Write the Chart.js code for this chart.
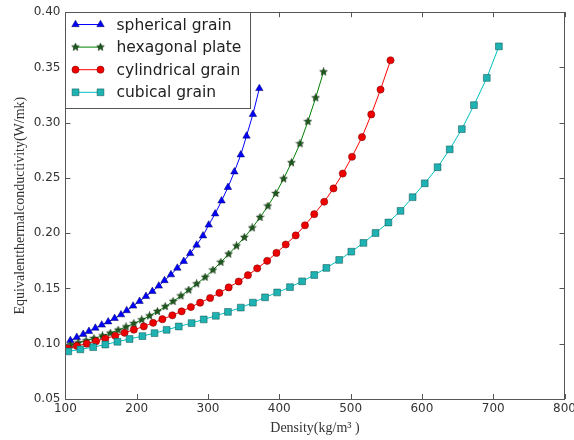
<!DOCTYPE html>
<html>
<head>
<meta charset="utf-8">
<title>Equivalent thermal conductivity vs density</title>
<script src="https://cdn.jsdelivr.net/npm/chart.js@4.4.1/dist/chart.umd.min.js"></script>
<style>
  html, body { margin: 0; padding: 0; background: #fff; }
  #wrap { width: 574px; height: 440px; }
</style>
</head>
<body>
<div id="wrap"><canvas id="kChart" width="574" height="440"></canvas></div>
<script>
// ── Data ──
// density in kg/m3, conductivity in W/mK

const sphericalX = [107, 116, 125, 133, 142, 151, 160, 169, 178, 186, 195, 204, 213, 222, 231, 239,
  248, 257, 266, 275, 284, 293, 301, 310, 319, 328, 337, 346, 354, 363, 372];
const sphericalY = [0.1030, 0.1058, 0.1086, 0.1113, 0.1142, 0.1170, 0.1199, 0.1230, 0.1263, 0.1300,
  0.1342, 0.1384, 0.1429, 0.1474, 0.1523, 0.1572, 0.1625, 0.1685, 0.1746, 0.1817, 0.1893, 0.1977,
  0.2075, 0.2176, 0.2293, 0.2415, 0.2556, 0.2710, 0.2880, 0.3076, 0.3310];

const hexX = [107, 118, 129, 140, 152, 163, 174, 185, 196, 207, 218, 229, 240, 251, 262, 273, 284,
  296, 307, 318, 329, 340, 351, 362, 373, 384, 395, 406, 417, 429, 440, 451, 462];
const hexY = [0.0990, 0.1008, 0.1027, 0.1048, 0.1071, 0.1096, 0.1123, 0.1152, 0.1183, 0.1216, 0.1252,
  0.1292, 0.1336, 0.1383, 0.1433, 0.1486, 0.1542, 0.1602, 0.1667, 0.1737, 0.1812, 0.1885, 0.1962,
  0.2048, 0.2143, 0.2246, 0.2360, 0.2492, 0.2638, 0.2810, 0.3010, 0.3225, 0.3460];

const cylX = [103, 116, 130, 143, 156, 170, 183, 196, 210, 223, 236, 250, 263, 276, 289, 303, 316,
  329, 343, 356, 369, 383, 396, 409, 423, 436, 449, 463, 476, 489, 502, 516, 529, 542, 556];
const cylY = [0.0960, 0.0980, 0.1001, 0.1023, 0.1047, 0.1072, 0.1099, 0.1127, 0.1157, 0.1189, 0.1222,
  0.1257, 0.1293, 0.1332, 0.1372, 0.1414, 0.1460, 0.1510, 0.1563, 0.1620, 0.1682, 0.1750, 0.1822,
  0.1898, 0.1980, 0.2072, 0.2172, 0.2285, 0.2405, 0.2540, 0.2692, 0.2870, 0.3075, 0.3300, 0.3565];

const cubicX = [104, 121, 139, 156, 173, 190, 208, 225, 242, 259, 277, 294, 311, 328, 346, 363, 380,
  397, 415, 432, 449, 466, 484, 501, 518, 535, 553, 570, 587, 604, 622, 639, 656, 673, 691, 708];
const cubicY = [0.0931, 0.0949, 0.0969, 0.0993, 0.1018, 0.1043, 0.1069, 0.1096, 0.1126, 0.1156,
  0.1187, 0.1220, 0.1253, 0.1288, 0.1327, 0.1372, 0.1420, 0.1464, 0.1512, 0.1565, 0.1622, 0.1686,
  0.1758, 0.1833, 0.1912, 0.2002, 0.2097, 0.2202, 0.2326, 0.2452, 0.2597, 0.2759, 0.2942, 0.3159,
  0.3405, 0.3691];

const seriesNames = ['spherical grain', 'hexagonal plate', 'cylindrical grain', 'cubical grain'];
const xTicks = [100, 200, 300, 400, 500, 600, 700, 800];
const yTicks = [0.05, 0.10, 0.15, 0.20, 0.25, 0.30, 0.35, 0.40];

const pairs = (xs, ys) => xs.map((x, i) => ({ x, y: ys[i] }));

// ── Filled five point star, like the matplotlib '*' marker ──
function starMarker(size, fill, edge) {
  const c = document.createElement('canvas');
  c.width = c.height = size;
  const g = c.getContext('2d');
  const cx = size / 2, cy = size / 2;
  const R = size / 2 - 0.5, r = R * 0.45;
  g.beginPath();
  for (let i = 0; i < 10; i++) {
    const a = -Math.PI / 2 + i * Math.PI / 5;
    const rad = i % 2 ? r : R;
    g.lineTo(cx + rad * Math.cos(a), cy + rad * Math.sin(a));
  }
  g.closePath();
  g.fillStyle = fill;
  g.fill();
  g.strokeStyle = edge;
  g.lineWidth = 0.6;
  g.stroke();
  return c;
}

// ── Box frame with inward ticks on all four sides ──
const frameTicks = {
  id: 'frameTicks',
  afterDatasetsDraw(chart) {
    const { ctx, chartArea: a, scales } = chart;
    const len = 5;
    ctx.save();
    ctx.strokeStyle = '#555';
    ctx.lineWidth = 1;
    ctx.beginPath();
    xTicks.forEach(v => {
      const px = Math.round(scales.x.getPixelForValue(v)) + 0.5;
      ctx.moveTo(px, a.bottom); ctx.lineTo(px, a.bottom - len);
      ctx.moveTo(px, a.top);    ctx.lineTo(px, a.top + len);
    });
    yTicks.forEach(v => {
      const py = Math.round(scales.y.getPixelForValue(v)) + 0.5;
      ctx.moveTo(a.left, py);  ctx.lineTo(a.left + len, py);
      ctx.moveTo(a.right, py); ctx.lineTo(a.right - len, py);
    });
    ctx.stroke();
    ctx.strokeRect(Math.round(a.left) + 0.5, Math.round(a.top) + 0.5,
      Math.round(a.right - a.left), Math.round(a.bottom - a.top));
    ctx.restore();
  }
};

// ── Legend box in the upper left corner ──
const boxLegend = {
  id: 'boxLegend',
  afterDraw(chart) {
    const { ctx, chartArea: a } = chart;
    const x0 = Math.round(a.left) + 0.5, y0 = Math.round(a.top) + 0.5;
    const w = 185, h = 96, rowH = 22.6;
    ctx.save();
    ctx.fillStyle = '#fff';
    ctx.fillRect(x0, y0, w, h);
    ctx.strokeStyle = '#555';
    ctx.lineWidth = 1;
    ctx.strokeRect(x0, y0, w, h);
    ctx.font = '15.5px "DejaVu Sans"';
    ctx.textBaseline = 'middle';
    chart.data.datasets.forEach((ds, i) => {
      const y = y0 + 12 + i * rowH;
      const xa = x0 + 10, xb = x0 + 35;
      ctx.strokeStyle = ds.borderColor;
      ctx.lineWidth = ds.borderWidth;
      ctx.beginPath();
      ctx.moveTo(xa, y); ctx.lineTo(xb, y);
      ctx.stroke();
      const pt = {
        pointStyle: ds.pointStyle, radius: ds.pointRadius, rotation: 0,
        borderWidth: ds.pointBorderWidth
      };
      ctx.fillStyle = ds.pointBackgroundColor;
      ctx.strokeStyle = ds.pointBorderColor;
      ctx.lineWidth = ds.pointBorderWidth;
      Chart.helpers.drawPoint(ctx, pt, xa, y);
      Chart.helpers.drawPoint(ctx, pt, xb, y);
      ctx.fillStyle = '#222';
      ctx.fillText(ds.label, x0 + 51, y + 1);
    });
    ctx.restore();
  }
};

document.addEventListener('DOMContentLoaded', () => {
  const canvas = document.getElementById('kChart');

  new Chart(canvas, {
    type: 'line',
    data: {
      datasets: [
        {
          label: seriesNames[0],
          data: pairs(sphericalX, sphericalY),
          borderColor: '#0000ff',
          borderWidth: 1,
          pointStyle: 'triangle',
          pointRadius: 4.3,
          pointBackgroundColor: '#0000ff',
          pointBorderColor: '#00005a',
          pointBorderWidth: 0.5,
          order: 3,
        },
        {
          label: seriesNames[1],
          data: pairs(hexX, hexY),
          borderColor: '#008000',
          borderWidth: 1,
          pointStyle: starMarker(9, '#1d5a1d', '#0b2a0b'),
          pointRadius: 4,
          pointBackgroundColor: '#1d5a1d',
          pointBorderColor: '#0b2a0b',
          pointBorderWidth: 0.5,
          order: 2,
        },
        {
          label: seriesNames[2],
          data: pairs(cylX, cylY),
          borderColor: '#ff0000',
          borderWidth: 1,
          pointStyle: 'circle',
          pointRadius: 3.6,
          pointBackgroundColor: '#ee0000',
          pointBorderColor: '#700000',
          pointBorderWidth: 0.5,
          order: 1,
        },
        {
          label: seriesNames[3],
          data: pairs(cubicX, cubicY),
          borderColor: '#00bfbf',
          borderWidth: 1,
          pointStyle: 'rect',
          pointRadius: 4.8,
          pointBackgroundColor: '#1fb2b2',
          pointBorderColor: '#0a4f4f',
          pointBorderWidth: 0.5,
          order: 0,
        },
      ],
    },
    options: {
      responsive: false,
      animation: false,
      devicePixelRatio: 1,
      layout: { padding: { left: 0, right: 9.5, top: 11, bottom: 0 } },
      elements: { line: { tension: 0 } },
      plugins: {
        legend: { display: false },
        tooltip: { enabled: false },
      },
      scales: {
        x: {
          type: 'linear',
          min: 100,
          max: 800,
          afterBuildTicks: s => { s.ticks = xTicks.map(v => ({ value: v })); },
          afterFit: s => { s.height = 41; s.paddingLeft = 0; s.paddingRight = 0; },
          grid: { display: false, drawTicks: false },
          border: { display: false },
          ticks: {
            autoSkip: false,
            maxRotation: 0,
            padding: 2.5,
            color: '#333',
            font: { family: 'DejaVu Sans', size: 12 },
          },
          title: {
            display: true,
            text: 'Density(kg/m³ )',
            color: '#333',
            font: { family: 'Liberation Serif', size: 14 },
            padding: { top: 0, bottom: 3.6 },
          },
        },
        y: {
          type: 'linear',
          min: 0.05,
          max: 0.40,
          afterBuildTicks: s => { s.ticks = yTicks.map(v => ({ value: v })); },
          afterFit: s => { s.width = 65.4; },
          grid: { display: false, drawTicks: false },
          border: { display: false },
          ticks: {
            padding: 5,
            color: '#333',
            font: { family: 'DejaVu Sans', size: 12 },
            callback: v => Number(v).toFixed(2),
          },
          title: {
            display: true,
            text: 'Equivalentthermalconductivity(W/mk)',
            color: '#333',
            font: { family: 'Liberation Serif', size: 14 },
            padding: { top: 11.6, bottom: 0 },
          },
        },
      },
    },
    plugins: [frameTicks, boxLegend],
  });
});
</script>
</body>
</html>
